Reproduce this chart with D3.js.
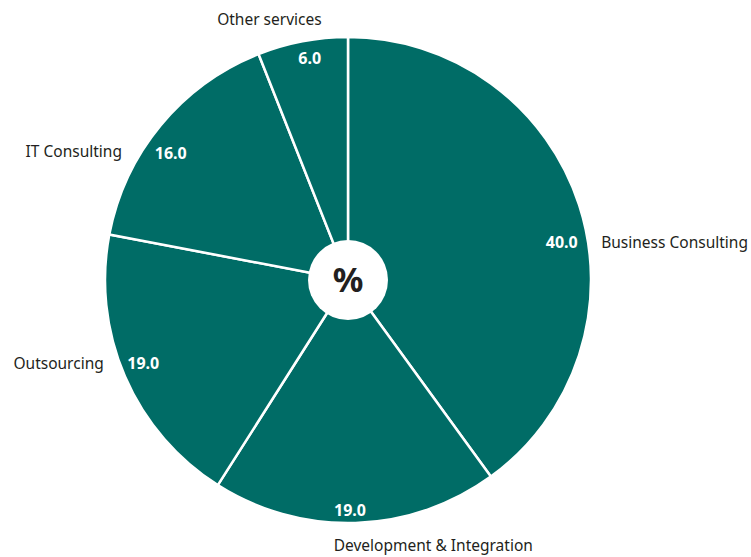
<!DOCTYPE html>
<html>
<head>
<meta charset="utf-8">
<script src="https://cdn.jsdelivr.net/npm/d3@7"></script>
<style>
  html, body { margin: 0; padding: 0; background: #fff; }
  svg { display: block; }
</style>
</head>
<body>
<svg id="chart" width="751" height="557"></svg>
<script>
// Revenue split by service line, in percent
const categories = ["Business Consulting", "Development & Integration", "Outsourcing", "IT Consulting", "Other services"];
const shares = [40.0, 19.0, 19.0, 16.0, 6.0];
const centerLabel = "%";

const width = 751, height = 557;
const cx = 348, cy = 280, radius = 243, holeRadius = 40;
const fill = "#006c66";
const textColor = "#231f20";
const fontFamily = "'Noto Sans', 'Open Sans', sans-serif";

// Label placement: angular nudge (degrees) from the slice mid-angle and distance from centre
const valueNudge = { "Business Consulting": 8, "Development & Integration": 1.3, "Outsourcing": 1.3, "IT Consulting": -4, "Other services": 1 };
const valueRadius = { "Business Consulting": 217, "Development & Integration": 230, "Outsourcing": 221, "IT Consulting": 218, "Other services": 225 };
const nameNudge = { "Business Consulting": 9.5, "Development & Integration": -16, "Outsourcing": 4.6, "IT Consulting": -10, "Other services": -6 };
const nameRadius = { "Business Consulting": 256, "Development & Integration": 279, "Outsourcing": 258, "IT Consulting": 260, "Other services": 272 };

const data = categories.map((c, i) => ({ name: c, value: shares[i] }));

const pie = d3.pie().value(d => d.value).sort(null);
const arc = d3.arc().innerRadius(0).outerRadius(radius);
const arcs = pie(data);

const svg = d3.select("#chart");
const g = svg.append("g").attr("transform", `translate(${cx},${cy})`);

g.selectAll("path.slice")
  .data(arcs)
  .join("path")
  .attr("class", "slice")
  .attr("d", arc)
  .attr("fill", fill)
  .attr("stroke", "#fff")
  .attr("stroke-width", 2.5)
  .attr("stroke-linejoin", "round");

// white hub with the unit sign
g.append("circle").attr("r", holeRadius).attr("fill", "#fff");
g.append("text")
  .attr("text-anchor", "middle")
  .attr("dy", "0.36em")
  .attr("font-family", fontFamily)
  .attr("font-weight", "bold")
  .attr("font-size", 34)
  .attr("fill", textColor)
  .text(centerLabel);

const toRad = Math.PI / 180;
function polar(angle, r) {
  return [Math.sin(angle) * r, -Math.cos(angle) * r];
}

// value labels inside the slices
g.selectAll("text.value")
  .data(arcs)
  .join("text")
  .attr("class", "value")
  .attr("transform", d => {
    const a = (d.startAngle + d.endAngle) / 2 + valueNudge[d.data.name] * toRad;
    const [x, y] = polar(a, valueRadius[d.data.name]);
    return `translate(${x},${y})`;
  })
  .attr("text-anchor", "middle")
  .attr("dy", "0.36em")
  .attr("font-family", fontFamily)
  .attr("font-weight", "bold")
  .attr("font-size", 16)
  .attr("fill", "#fff")
  .text(d => d3.format(".1f")(d.data.value));

// category labels outside the pie
g.selectAll("text.name")
  .data(arcs)
  .join("text")
  .attr("class", "name")
  .each(function(d) {
    const a = (d.startAngle + d.endAngle) / 2 + nameNudge[d.data.name] * toRad;
    const [x, y] = polar(a, nameRadius[d.data.name]);
    const s = Math.sin(a);
    const anchor = Math.abs(s) < 0.45 ? "middle" : (s > 0 ? "start" : "end");
    d3.select(this)
      .attr("x", x).attr("y", y)
      .attr("text-anchor", anchor);
  })
  .attr("dy", "0.36em")
  .attr("font-family", fontFamily)
  .attr("font-size", 15.5)
  .attr("fill", textColor)
  .text(d => d.data.name);
</script>
</body>
</html>
